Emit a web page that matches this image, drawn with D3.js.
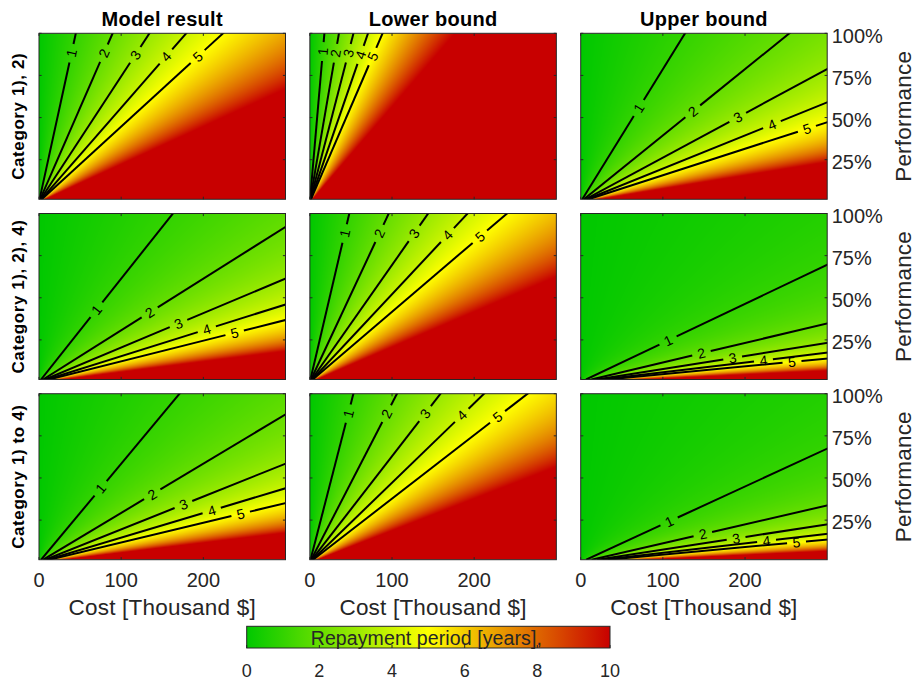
<!DOCTYPE html>
<html>
<head>
<meta charset="utf-8">
<script src="https://cdn.jsdelivr.net/npm/d3@7"></script>
<style>
  html, body { margin: 0; padding: 0; background: #fff; }
  svg { display: block; font-family: "Liberation Sans", Arial, Helvetica, sans-serif; }
</style>
</head>
<body>
<svg id="chart" width="919" height="681"></svg>
<script>
// ---- data -------------------------------------------------------------
const columnTitles = ["Model result", "Lower bound", "Upper bound"];
const rowTitles = ["Category 1), 2)", "Category 1), 2), 4)", "Category 1) to 4)"];
// yearly savings at 100 % performance [thousand $ / year], per row and column
const savingsModel = [44.8, 163, 171];
const savingsLower = [17.7, 48, 53];
const savingsUpper = [127, 431, 445];
const contourLevels = [1, 2, 3, 4, 5];
const costTicks = [0, 100, 200];
const costMax = 300;
const perfTicks = [0.25, 0.5, 0.75, 1];
const perfTickLabels = ["25%", "50%", "75%", "100%"];
const perfMin = 0.015;
const colorTicks = [0, 2, 4, 6, 8, 10];
const periodMax = 10;

// ---- layout -----------------------------------------------------------
const panelX0 = 39, panelStepX = 270.85, panelW = 246.5;
const panelY0 = 33.3, panelStepY = 180.2, panelH = 166;
// where each contour label sits, as a fraction of the visible line length
const labelFractions = [
  [[0.88, 0.88, 0.87, 0.86, 0.86], [0.89, 0.88, 0.88, 0.87, 0.86], [0.55, 0.53, 0.63, 0.77, 0.915]],
  [[0.42, 0.44, 0.555, 0.67, 0.785], [0.88, 0.88, 0.88, 0.87, 0.86], [0.34, 0.467, 0.59, 0.717, 0.84]],
  [[0.43, 0.45, 0.575, 0.69, 0.81], [0.88, 0.88, 0.88, 0.87, 0.86], [0.344, 0.472, 0.604, 0.73, 0.86]]
];
const axisColor = "#262626";
const fontTick = 20, fontLabel = 22.5;

const savings = [0, 1, 2].map(r => [savingsModel[r], savingsLower[r], savingsUpper[r]]);

const svg = d3.select("#chart");

const x = d3.scaleLinear().domain([0, costMax]).range([0, panelW]);
const y = d3.scaleLinear().domain([perfMin, 1]).range([panelH, 0]);
const color = d3.scaleLinear()
  .domain([0, 5, 10])
  .range(["rgb(0,200,0)", "rgb(255,255,0)", "rgb(200,0,0)"])
  .clamp(true);

// colour lookup table for the raster
const lutN = 2001;
const lut = d3.range(lutN).map(i => d3.rgb(color(i / (lutN - 1) * periodMax)));

const defs = svg.append("defs");
defs.append("clipPath").attr("id", "panelClip")
  .append("rect").attr("width", panelW).attr("height", panelH);

function rasterize(k) {
  const cw = Math.ceil(panelW), ch = Math.ceil(panelH);
  const canvas = document.createElement("canvas");
  canvas.width = cw; canvas.height = ch;
  const ctx = canvas.getContext("2d");
  const img = ctx.createImageData(cw, ch);
  for (let j = 0; j < ch; j++) {
    const perf = y.invert(j + 0.5);
    for (let i = 0; i < cw; i++) {
      const cost = x.invert(i + 0.5);
      const period = Math.min(periodMax, cost / (k * perf));
      const c = lut[Math.round(period / periodMax * (lutN - 1))];
      const o = (j * cw + i) * 4;
      img.data[o] = c.r; img.data[o + 1] = c.g; img.data[o + 2] = c.b; img.data[o + 3] = 255;
    }
  }
  ctx.putImageData(img, 0, 0);
  return { url: canvas.toDataURL(), w: cw, h: ch };
}

for (let r = 0; r < 3; r++) {
  for (let c = 0; c < 3; c++) {
    const k = savings[r][c];
    const g = svg.append("g")
      .attr("transform", `translate(${panelX0 + c * panelStepX},${panelY0 + r * panelStepY})`);

    const ras = rasterize(k);
    g.append("image")
      .attr("href", ras.url)
      .attr("width", ras.w).attr("height", ras.h)
      .attr("preserveAspectRatio", "none")
      .attr("clip-path", "url(#panelClip)");

    // contour lines: period = cost / (k * perf)  ->  perf = cost / (k * t)
    const lines = g.append("g").attr("clip-path", "url(#panelClip)");
    contourLevels.forEach((t, li) => {
      const costEnd = Math.min(costMax, k * t);
      const perfEnd = costEnd / (k * t);
      const costStart = perfMin * k * t;
      const p0 = [x(costStart), y(perfMin)];
      const p1 = [x(costEnd), y(perfEnd)];
      const f = labelFractions[r][c][li];
      const cost = costStart + f * (costEnd - costStart);
      const pm = [x(cost), y(cost / (k * t))];
      const dx = p1[0] - p0[0], dy = p1[1] - p0[1];
      const len = Math.hypot(dx, dy);
      const ux = dx / len, uy = dy / len;
      const half = 9.5;
      const seg = d3.line();
      lines.append("path")
        .attr("d", seg([p0, [pm[0] - ux * half, pm[1] - uy * half]]))
        .attr("fill", "none").attr("stroke", "#000").attr("stroke-width", 2);
      lines.append("path")
        .attr("d", seg([[pm[0] + ux * half, pm[1] + uy * half], [p1[0] + ux * 3, p1[1] + uy * 3]]))
        .attr("fill", "none").attr("stroke", "#000").attr("stroke-width", 2);
      const ang = Math.atan2(dy, dx) * 180 / Math.PI;
      g.append("text")
        .attr("transform", `translate(${pm[0]},${pm[1]}) rotate(${ang})`)
        .attr("text-anchor", "middle")
        .attr("dy", "0.36em")
        .attr("font-size", 14)
        .attr("fill", "#000")
        .text(t);
    });

    // ticks on all four sides, pointing inward
    const tl = 2.6;
    const tg = g.append("g").attr("stroke", axisColor).attr("stroke-width", 1);
    costTicks.forEach(v => {
      tg.append("line").attr("x1", x(v)).attr("x2", x(v)).attr("y1", panelH).attr("y2", panelH - tl);
      tg.append("line").attr("x1", x(v)).attr("x2", x(v)).attr("y1", 0).attr("y2", tl);
    });
    perfTicks.forEach(v => {
      tg.append("line").attr("x1", 0).attr("x2", tl).attr("y1", y(v)).attr("y2", y(v));
      tg.append("line").attr("x1", panelW).attr("x2", panelW - tl).attr("y1", y(v)).attr("y2", y(v));
    });
    g.append("rect")
      .attr("width", panelW).attr("height", panelH)
      .attr("fill", "none").attr("stroke", axisColor).attr("stroke-width", 1);

    if (r === 0) {
      g.append("text")
        .attr("x", panelW / 2).attr("y", 26 - panelY0)
        .attr("text-anchor", "middle")
        .attr("font-size", 20).attr("font-weight", "bold")
        .attr("letter-spacing", 0.3)
        .attr("fill", "#000")
        .text(columnTitles[c]);
    }
    if (c === 0) {
      g.append("text")
        .attr("transform", `translate(${23.5 - panelX0},${panelH / 2}) rotate(-90)`)
        .attr("text-anchor", "middle")
        .attr("font-size", 17).attr("font-weight", "bold")
        .attr("letter-spacing", 0.6)
        .attr("fill", "#000")
        .text(rowTitles[r]);
    }
    if (c === 2) {
      perfTicks.forEach((v, i) => {
        g.append("text")
          .attr("x", panelW + 4.5).attr("y", y(v) + 2)
          .attr("dy", "0.36em")
          .attr("font-size", fontTick)
          .attr("fill", axisColor)
          .text(perfTickLabels[i]);
      });
      g.append("text")
        .attr("transform", `translate(${911 - (panelX0 + c * panelStepX)},${panelH / 2}) rotate(-90)`)
        .attr("text-anchor", "middle")
        .attr("font-size", fontLabel).attr("letter-spacing", 0.2)
        .attr("fill", axisColor)
        .text("Performance");
    }
    if (r === 2) {
      costTicks.forEach(v => {
        g.append("text")
          .attr("x", x(v)).attr("y", panelH + 27)
          .attr("text-anchor", "middle")
          .attr("font-size", fontTick)
          .attr("fill", axisColor)
          .text(v);
      });
      g.append("text")
        .attr("x", panelW / 2).attr("y", panelH + 55)
        .attr("text-anchor", "middle")
        .attr("font-size", fontLabel).attr("letter-spacing", 0.2)
        .attr("fill", axisColor)
        .text("Cost [Thousand $]");
    }
  }
}

// ---- colour bar -------------------------------------------------------
const cbX = 246.7, cbY = 626.3, cbW = 363.3, cbH = 21.7;
const cbScale = d3.scaleLinear().domain([0, periodMax]).range([cbX, cbX + cbW]);
const grad = defs.append("linearGradient").attr("id", "cbGrad")
  .attr("x1", "0%").attr("x2", "100%").attr("y1", "0%").attr("y2", "0%");
d3.range(0, 10.01, 0.5).forEach(v => {
  grad.append("stop").attr("offset", `${v / periodMax * 100}%`).attr("stop-color", color(v));
});
svg.append("rect")
  .attr("x", cbX).attr("y", cbY).attr("width", cbW).attr("height", cbH)
  .attr("fill", "url(#cbGrad)");
const cbt = svg.append("g").attr("stroke", axisColor).attr("stroke-width", 1);
colorTicks.forEach(v => {
  cbt.append("line").attr("x1", cbScale(v)).attr("x2", cbScale(v))
    .attr("y1", cbY + cbH).attr("y2", cbY + cbH - 3);
});
svg.append("rect")
  .attr("x", cbX).attr("y", cbY).attr("width", cbW).attr("height", cbH)
  .attr("fill", "none").attr("stroke", axisColor).attr("stroke-width", 1);
svg.append("text")
  .attr("x", cbX + cbW / 2 - 2).attr("y", 645)
  .attr("text-anchor", "middle")
  .attr("font-size", 19.5).attr("letter-spacing", 0.1)
  .attr("fill", axisColor)
  .text("Repayment period [years],");
colorTicks.forEach(v => {
  svg.append("text")
    .attr("x", cbScale(v)).attr("y", 676.5)
    .attr("text-anchor", "middle")
    .attr("font-size", 18)
    .attr("fill", axisColor)
    .text(v);
});
</script>
</body>
</html>
